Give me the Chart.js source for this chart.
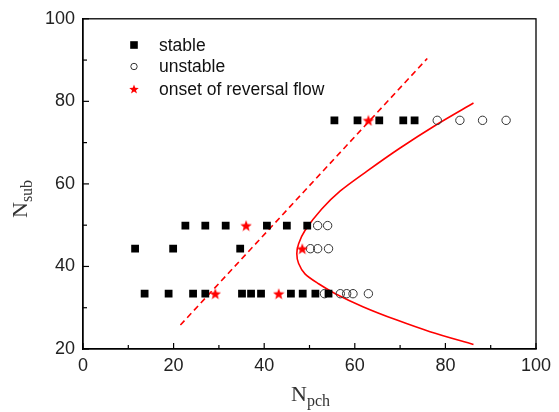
<!DOCTYPE html>
<html>
<head>
<meta charset="utf-8">
<script src="https://cdn.jsdelivr.net/npm/chart.js@4.4.1/dist/chart.umd.min.js"></script>
<style>
  html, body { margin: 0; padding: 0; background: #fff; }
</style>
</head>
<body>
<canvas id="flowMap" width="559" height="412"></canvas>
<script>
// stable points (N_pch, N_sub)
const stableX = [13.6, 18.9, 24.3, 27.0, 35.1, 37.1, 39.3, 45.9, 48.5, 51.3, 54.2,
                 11.5, 19.9, 34.7,
                 22.6, 27.0, 31.5, 40.6, 45.0, 49.5,
                 55.5, 60.6, 65.4, 70.7, 73.2];
const stableY = [33.4, 33.4, 33.4, 33.4, 33.4, 33.4, 33.4, 33.4, 33.4, 33.4, 33.4,
                 44.3, 44.3, 44.3,
                 49.9, 49.9, 49.9, 49.9, 49.9, 49.9,
                 75.4, 75.4, 75.4, 75.4, 75.4];

// unstable points
const unstableX = [53.3, 56.8, 58.2, 59.6, 63.0,
                   50.2, 51.8, 54.2,
                   51.8, 54.0,
                   78.2, 83.2, 88.2, 93.4];
const unstableY = [33.4, 33.4, 33.4, 33.4, 33.4,
                   44.3, 44.3, 44.3,
                   49.9, 49.9,
                   75.4, 75.4, 75.4, 75.4];

// onset of reversal flow
const onsetX = [29.2, 43.2, 48.4, 36.0, 63.0];
const onsetY = [33.4, 33.4, 44.3, 49.9, 75.4];

// dashed boundary (straight line, two ends)
const dashX = [21.5, 76.0];
const dashY = [25.8, 90.4];

// solid boundary curve from top to bottom
const curveX = [86.2, 78.1, 70.0, 62.7, 56.8, 52.7, 49.0, 47.6, 47.2, 47.6, 49.0, 52.0, 55.7, 61.9, 69.3, 76.6, 86.2];
const curveY = [79.6, 74.4, 68.7, 63.1, 58.3, 53.9, 48.7, 45.5, 43.1, 40.7, 38.2, 35.8, 33.4, 30.2, 27.0, 24.2, 21.1];

const xTicks = [0, 20, 40, 60, 80, 100];
const yTicks = [20, 40, 60, 80, 100];
const legendLabels = ['stable', 'unstable', 'onset of reversal flow'];

const RED = '#ff0000';
const toPoints = (xs, ys) => xs.map((x, i) => ({ x: x, y: ys[i] }));

// filled five point star used as a point style
function makeStar(size, color) {
    const c = document.createElement('canvas');
    c.width = size;
    c.height = size;
    const g = c.getContext('2d');
    const cx = size / 2, cy = size / 2 + size * 0.05, R = size / 2, r = R * 0.42;
    g.beginPath();
    for (let i = 0; i < 10; i++) {
        const a = -Math.PI / 2 + i * Math.PI / 5;
        const rad = i % 2 === 0 ? R : r;
        g.lineTo(cx + rad * Math.cos(a), cy + rad * Math.sin(a));
    }
    g.closePath();
    g.fillStyle = color;
    g.fill();
    return c;
}
const starBig = makeStar(12, RED);
const starSmall = makeStar(10, RED);

// inward tick marks, box outline, legend and axis titles with subscripts
const decorPlugin = {
    id: 'decor',
    afterDraw(chart) {
        const ctx = chart.ctx;
        const a = chart.chartArea;
        const xs = chart.scales.x, ys = chart.scales.y;
        ctx.save();
        ctx.strokeStyle = '#000';
        ctx.lineWidth = 1.3;
        ctx.strokeRect(a.left, a.top, a.right - a.left, a.bottom - a.top);

        ctx.lineWidth = 1.2;
        for (let v = 0; v <= 100; v += 10) {
            const px = xs.getPixelForValue(v);
            const len = v % 20 === 0 ? 6 : 4;
            ctx.beginPath();
            ctx.moveTo(px, a.bottom);
            ctx.lineTo(px, a.bottom - len);
            ctx.stroke();
        }
        for (let v = 20; v <= 100; v += 10) {
            const py = ys.getPixelForValue(v);
            const len = v % 20 === 0 ? 6 : 4;
            ctx.beginPath();
            ctx.moveTo(a.left, py);
            ctx.lineTo(a.left + len, py);
            ctx.stroke();
        }

        // legend
        const lx = 134, ly = [45, 66.5, 89];
        ctx.fillStyle = '#000';
        ctx.fillRect(lx - 3.8, ly[0] - 3.8, 7.6, 7.6);
        ctx.beginPath();
        ctx.arc(lx, ly[1], 3.2, 0, Math.PI * 2);
        ctx.strokeStyle = '#333';
        ctx.lineWidth = 1;
        ctx.stroke();
        ctx.drawImage(starSmall, lx - 5, ly[2] - 5);
        ctx.fillStyle = '#111';
        ctx.font = '17.5px "Liberation Sans", Arial, sans-serif';
        ctx.textBaseline = 'middle';
        ctx.textAlign = 'left';
        legendLabels.forEach((t, i) => ctx.fillText(t, 159, ly[i] + 1));

        // axis titles
        ctx.fillStyle = '#333';
        ctx.textBaseline = 'alphabetic';
        const big = '22px "Liberation Serif", "Times New Roman", serif';
        const small = '16px "Liberation Serif", "Times New Roman", serif';
        // x title
        ctx.font = big;
        const nw = ctx.measureText('N').width;
        ctx.font = small;
        const pw = ctx.measureText('pch').width;
        const x0 = (a.left + a.right) / 2 - (nw + pw) / 2 + 1;
        ctx.font = big;
        ctx.fillText('N', x0, 401);
        ctx.font = small;
        ctx.fillText('pch', x0 + nw, 406);
        // y title
        ctx.save();
        ctx.translate(27, 218);
        ctx.rotate(-Math.PI / 2);
        ctx.font = big;
        ctx.fillText('N', 0, 0);
        ctx.font = small;
        ctx.fillText('sub', nw, 5);
        ctx.restore();
        ctx.restore();
    }
};

const tickFont = { family: '"Liberation Sans", Arial, sans-serif', size: 18 };

new Chart(document.getElementById('flowMap').getContext('2d'), {
    type: 'scatter',
    data: {
        datasets: [
            {
                label: 'onset of reversal flow',
                data: toPoints(onsetX, onsetY),
                pointStyle: starBig,
                pointRadius: 6
            },
            {
                label: 'stable',
                data: toPoints(stableX, stableY),
                pointStyle: 'rect',
                pointRadius: 5.5,
                backgroundColor: '#000',
                borderColor: '#000',
                borderWidth: 0
            },
            {
                label: 'unstable',
                data: toPoints(unstableX, unstableY),
                pointStyle: 'circle',
                pointRadius: 4.2,
                backgroundColor: 'rgba(0,0,0,0)',
                borderColor: '#333',
                borderWidth: 1
            },
            {
                label: 'curve',
                data: toPoints(curveX, curveY),
                showLine: true,
                pointRadius: 0,
                borderColor: RED,
                borderWidth: 1.6,
                tension: 0.3
            },
            {
                label: 'dash',
                data: toPoints(dashX, dashY),
                showLine: true,
                pointRadius: 0,
                borderColor: RED,
                borderWidth: 1.6,
                borderDash: [6, 4]
            }
        ]
    },
    options: {
        responsive: false,
        animation: false,
        devicePixelRatio: 1,
        layout: { padding: { left: 0, top: 17, right: 23, bottom: 0 } },
        plugins: {
            legend: { display: false },
            tooltip: { enabled: false }
        },
        scales: {
            x: {
                type: 'linear',
                min: 0,
                max: 100,
                afterFit: (s) => { s.height = 63; },
                afterBuildTicks: (s) => { s.ticks = xTicks.map(v => ({ value: v })); },
                grid: { display: false, drawTicks: false },
                border: { display: true, color: '#000', width: 1.3 },
                ticks: { font: tickFont, color: '#222', padding: 6, maxRotation: 0 }
            },
            y: {
                type: 'linear',
                min: 20,
                max: 100,
                afterFit: (s) => { s.width = 83; },
                afterBuildTicks: (s) => { s.ticks = yTicks.map(v => ({ value: v })); },
                grid: { display: false, drawTicks: false },
                border: { display: true, color: '#000', width: 1.3 },
                ticks: { font: tickFont, color: '#222', padding: 8 }
            }
        }
    },
    plugins: [decorPlugin]
});
</script>
</body>
</html>
